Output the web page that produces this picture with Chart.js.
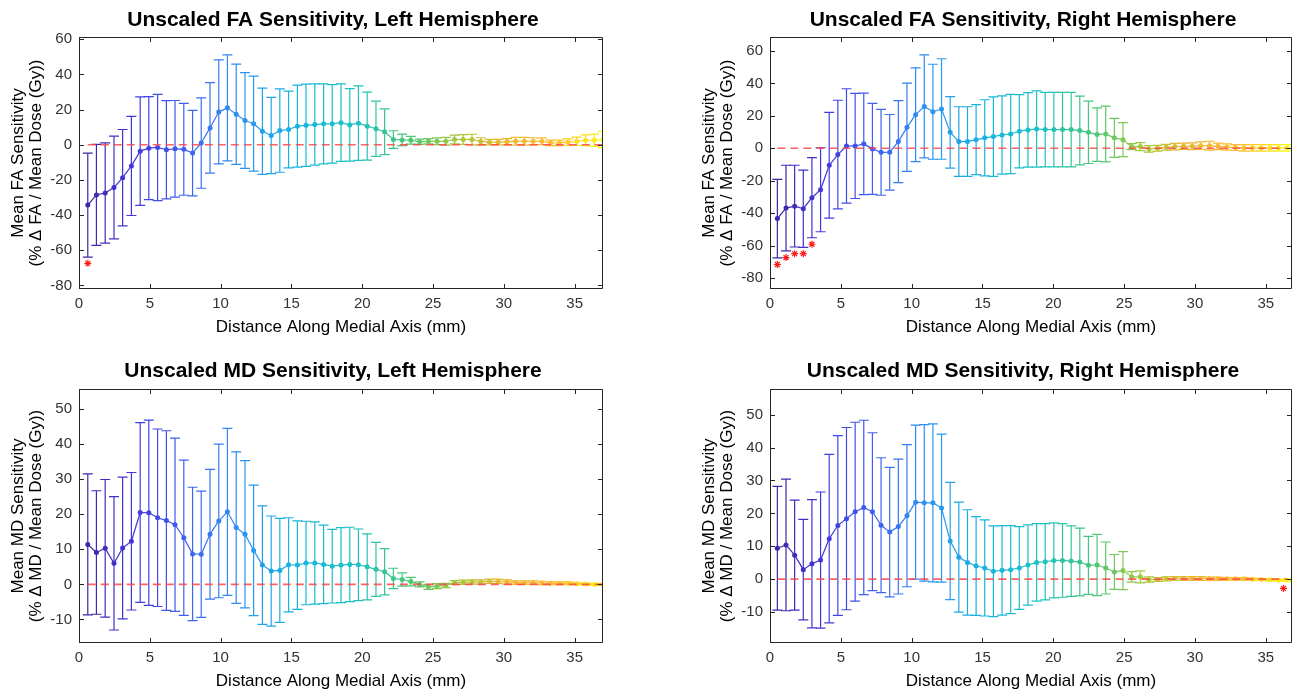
<!DOCTYPE html>
<html>
<head>
<meta charset="utf-8">
<script src="https://cdn.jsdelivr.net/npm/chart.js@4.4.0/dist/chart.umd.min.js"></script>
<style>
html, body { margin: 0; padding: 0; background: #fff; overflow: hidden; width: 1294px; height: 694px; }
canvas { position: absolute; }
</style>
</head>
<body>
<canvas id="faLeft" width="666" height="352" style="left:0;top:0"></canvas>
<canvas id="faRight" width="664" height="352" style="left:691px;top:0"></canvas>
<canvas id="mdLeft" width="666" height="342" style="left:0;top:352px"></canvas>
<canvas id="mdRight" width="664" height="342" style="left:691px;top:352px"></canvas>
<script>
// distanza lungo l'asse mediale (mm)
const DIST_L = [0.62, 1.23, 1.85, 2.47, 3.08, 3.70, 4.32, 4.93, 5.55, 6.17, 6.78, 7.40, 8.02, 8.63, 9.25,
  9.87, 10.48, 11.10, 11.72, 12.33, 12.95, 13.57, 14.18, 14.80, 15.42, 16.03, 16.65, 17.27, 17.88, 18.50,
  19.12, 19.73, 20.35, 20.97, 21.58, 22.20, 22.82, 23.43, 24.05, 24.67, 25.28, 25.90, 26.52, 27.13, 27.75,
  28.37, 28.98, 29.60, 30.22, 30.83, 31.45, 32.07, 32.68, 33.30, 33.92, 34.53, 35.15, 35.77, 36.38, 37.00];
const DIST_R = [0.52, 1.13, 1.74, 2.35, 2.96, 3.57, 4.18, 4.79, 5.40, 6.01, 6.62, 7.23, 7.84, 8.45, 9.06,
  9.67, 10.28, 10.89, 11.50, 12.11, 12.72, 13.33, 13.94, 14.55, 15.16, 15.77, 16.38, 16.99, 17.60, 18.21,
  18.82, 19.43, 20.04, 20.65, 21.26, 21.87, 22.48, 23.09, 23.70, 24.31, 24.92, 25.53, 26.14, 26.75, 27.36,
  27.97, 28.58, 29.19, 29.80, 30.41, 31.02, 31.63, 32.24, 32.85, 33.46, 34.07, 34.68, 35.29, 35.90, 36.51];
const X_TICKS = [0, 5, 10, 15, 20, 25, 30, 35];

// FA, emisfero sinistro
const FA_L_MEAN = [-34.3, -28.5, -27.4, -24.3, -18.7, -12.0, -3.6, -1.9, -1.5, -2.8, -2.3, -2.6, -4.7, 1.0, 9.6,
  18.7, 21.0, 17.4, 13.8, 12.0, 7.7, 5.3, 8.1, 8.7, 10.6, 11.1, 11.5, 11.9, 11.9, 12.6,
  11.3, 12.3, 10.6, 9.1, 7.4, 3.0, 2.8, 2.6, 1.7, 2.0, 2.0, 2.0, 3.0, 3.0, 3.0,
  1.9, 1.5, 1.5, 1.7, 2.0, 2.0, 2.0, 2.0, 1.1, 1.1, 1.5, 2.0, 2.6, 2.6, 3.0];
const FA_L_SD = [29.6, 28.7, 28.5, 29.2, 27.4, 28.2, 30.8, 29.3, 30.2, 27.9, 27.5, 26.1, 24.3, 25.7, 25.7,
  29.6, 30.1, 28.5, 27.2, 27.0, 24.5, 21.7, 23.7, 21.8, 23.3, 23.4, 23.1, 22.8, 22.3, 22.0,
  20.6, 21.2, 19.3, 15.7, 13.0, 5.0, 3.3, 2.2, 1.5, 1.5, 1.9, 2.2, 2.5, 2.8, 3.0,
  2.1, 1.6, 1.6, 1.8, 2.2, 2.2, 2.0, 1.9, 1.6, 1.6, 1.9, 2.4, 3.1, 3.5, 4.6];
const FA_L_STAR_X = [0.62];
const FA_L_STAR_Y = [-67.4];

// FA, emisfero destro
const FA_R_MEAN = [-43.4, -36.9, -35.7, -37.3, -30.5, -25.6, -10.5, -3.9, 1.4, 1.4, 2.7, -0.4, -2.5, -2.5, 4.1,
  12.9, 20.7, 25.8, 22.5, 24.2, 9.8, 4.1, 4.1, 5.3, 6.4, 7.2, 8.2, 8.8, 10.5, 11.3,
  11.9, 11.5, 11.5, 11.5, 11.5, 10.9, 9.8, 8.4, 8.8, 6.4, 5.3, 1.0, 1.0, -0.4, 0.0,
  0.6, 1.0, 1.2, 1.2, 1.6, 1.6, 1.2, 0.8, 0.4, 0.2, 0.2, 0.2, 0.2, 0.2, 0.2];
const FA_R_SD = [24.2, 26.4, 25.2, 23.8, 24.7, 25.9, 32.6, 33.5, 35.3, 32.4, 31.3, 28.1, 26.5, 23.3, 25.3,
  27.2, 28.9, 31.8, 29.3, 31.0, 22.0, 21.5, 21.5, 21.6, 23.5, 24.5, 24.1, 24.4, 22.6, 23.0,
  23.5, 23.0, 23.0, 23.0, 23.0, 21.2, 19.2, 16.5, 17.2, 12.0, 10.5, 1.9, 2.5, 2.0, 1.8,
  1.8, 2.0, 1.9, 2.1, 2.3, 2.7, 2.0, 1.9, 1.8, 2.0, 2.0, 2.0, 2.0, 2.0, 2.0];
const FA_R_STAR_X = [0.52, 1.13, 1.74, 2.35, 2.96];
const FA_R_STAR_Y = [-71.7, -67.4, -65.0, -65.0, -59.2];

// MD, emisfero sinistro
const MD_L_MEAN = [11.4, 9.1, 10.3, 6.0, 10.4, 12.3, 20.5, 20.4, 19.0, 18.2, 17.0, 13.3, 8.7, 8.6, 14.3,
  18.1, 20.7, 16.2, 14.3, 9.7, 5.5, 3.8, 4.0, 5.6, 5.5, 6.1, 6.1, 5.7, 5.2, 5.5,
  5.7, 5.6, 5.0, 4.3, 3.6, 1.7, 1.4, 0.8, 0.0, -0.7, -0.5, -0.3, 0.5, 0.6, 0.7,
  0.7, 0.9, 0.9, 0.7, 0.5, 0.5, 0.5, 0.4, 0.3, 0.3, 0.3, 0.2, 0.1, 0.0, 0.0];
const MD_L_SD = [20.1, 17.6, 19.6, 19.0, 20.2, 19.6, 25.6, 26.4, 25.3, 25.6, 24.7, 22.1, 19.0, 18.0, 18.5,
  21.9, 23.8, 21.6, 21.0, 18.6, 16.9, 15.7, 14.8, 13.4, 12.6, 11.9, 11.7, 11.2, 10.5, 10.7,
  10.6, 10.2, 9.4, 7.7, 6.6, 2.9, 1.9, 1.2, 0.7, 0.7, 0.7, 0.6, 0.6, 0.6, 0.6,
  0.6, 0.6, 0.6, 0.6, 0.5, 0.5, 0.5, 0.5, 0.4, 0.4, 0.4, 0.3, 0.3, 0.3, 0.3];
const MD_L_STAR_X = [];
const MD_L_STAR_Y = [];

// MD, emisfero destro
const MD_R_MEAN = [9.4, 10.4, 7.3, 2.9, 4.7, 5.8, 12.3, 16.3, 18.4, 20.5, 21.8, 20.5, 16.4, 14.3, 16.0,
  19.3, 23.4, 23.2, 23.2, 21.6, 11.6, 6.7, 5.1, 4.0, 3.4, 2.4, 2.7, 2.9, 3.4, 4.3,
  5.1, 5.3, 5.7, 5.7, 5.5, 5.2, 4.2, 4.3, 3.4, 2.2, 2.6, 0.7, 0.7, -0.1, -0.1,
  0.1, 0.2, 0.2, 0.2, 0.2, 0.1, 0.1, 0.1, 0.1, 0.1, 0.0, -0.1, -0.2, -0.3, -0.3];
const MD_R_SD = [18.8, 20.0, 16.7, 15.3, 19.5, 20.7, 25.6, 27.3, 27.7, 27.2, 26.5, 24.0, 20.5, 19.7, 20.5,
  21.6, 23.4, 23.8, 24.0, 22.5, 17.8, 16.7, 16.0, 15.0, 14.6, 13.8, 13.6, 13.4, 12.6, 12.2,
  11.8, 11.6, 11.4, 11.2, 10.7, 10.3, 8.8, 9.3, 7.9, 5.3, 5.8, 1.6, 1.8, 0.8, 0.6,
  0.6, 0.6, 0.6, 0.6, 0.6, 0.5, 0.5, 0.4, 0.4, 0.4, 0.3, 0.3, 0.3, 0.3, 0.3];
const MD_R_STAR_X = [36.25];
const MD_R_STAR_Y = [-2.8];

const FONT = 'Liberation Sans, Arial, sans-serif';

// colormap tipo parula
const PARULA = [
  [0.00, [62, 38, 168]], [0.08, [67, 53, 216]], [0.18, [63, 92, 240]], [0.28, [47, 140, 242]],
  [0.40, [22, 180, 224]], [0.52, [29, 194, 192]], [0.62, [72, 200, 120]], [0.72, [168, 200, 56]],
  [0.80, [232, 184, 48]], [0.90, [255, 186, 48]], [1.00, [248, 248, 21]]
];
function parula(t) {
  t = Math.max(0, Math.min(1, t));
  for (let i = 1; i < PARULA.length; i++) {
    if (t <= PARULA[i][0]) {
      const [t0, c0] = PARULA[i - 1], [t1, c1] = PARULA[i];
      const f = (t - t0) / (t1 - t0);
      const c = c0.map((v, k) => Math.round(v + (c1[k] - v) * f));
      return 'rgb(' + c.join(',') + ')';
    }
  }
  return 'rgb(248,248,21)';
}

//barre d'errore
const errorBars = {
  id: 'errbars',
  beforeDatasetsDraw(chart, args, opts) {
    const {ctx, chartArea: a, scales: {x, y}} = chart;
    const n = opts.mean.length;
    ctx.save();
    ctx.beginPath();
    ctx.rect(a.left, a.top, a.width, a.height);
    ctx.clip();
    ctx.lineWidth = 1.2;
    for (let i = 0; i < n; i++) {
      const px = x.getPixelForValue(opts.x[i]);
      const hi = y.getPixelForValue(opts.mean[i] + opts.sd[i]);
      const lo = y.getPixelForValue(opts.mean[i] - opts.sd[i]);
      ctx.strokeStyle = parula(i / (n - 1));
      ctx.beginPath();
      ctx.moveTo(px, hi); ctx.lineTo(px, lo);
      ctx.moveTo(px - 5, hi); ctx.lineTo(px + 5, hi);
      ctx.moveTo(px - 5, lo); ctx.lineTo(px + 5, lo);
      ctx.stroke();
    }
    ctx.restore();
  }
};

//riquadro con tacche interne
const axesBox = {
  id: 'axesBox',
  afterDraw(chart) {
    const {ctx, chartArea: a, scales: {x, y}} = chart;
    ctx.save();
    ctx.strokeStyle = '#262626';
    ctx.lineWidth = 1;
    ctx.beginPath();
    ctx.rect(Math.round(a.left) + 0.5, Math.round(a.top) + 0.5, Math.round(a.width) - 1, Math.round(a.height) - 1);
    x.ticks.forEach(t => {
      const p = Math.round(x.getPixelForValue(t.value)) + 0.5;
      ctx.moveTo(p, a.bottom); ctx.lineTo(p, a.bottom - 5);
      ctx.moveTo(p, a.top); ctx.lineTo(p, a.top + 5);
    });
    y.ticks.forEach(t => {
      const p = Math.round(y.getPixelForValue(t.value)) + 0.5;
      ctx.moveTo(a.left, p); ctx.lineTo(a.left + 5, p);
      ctx.moveTo(a.right, p); ctx.lineTo(a.right - 5, p);
    });
    ctx.stroke();
    ctx.restore();
  }
};

function pannello(id, cfg) {
  const n = cfg.mean.length;
  const stars = cfg.starX.map((v, i) => ({x: v, y: cfg.starY[i]}));
  const serie = cfg.x.map((v, i) => ({x: v, y: cfg.mean[i]}));
  return new Chart(document.getElementById(id), {
    type: 'line',
    data: {
      datasets: [
        {
          label: 'p < 0.05', type: 'scatter', data: stars, showLine: false,
          pointStyle: 'star', pointRadius: 3.5, borderColor: '#ff1a1a', borderWidth: 1.2
        },
        {
          label: 'zero', data: [{x: cfg.x[0], y: 0}, {x: cfg.x[n - 1], y: 0}],
          borderColor: 'rgba(255,70,70,0.85)', borderDash: [8, 5], borderWidth: 1.6, pointRadius: 0
        },
        {
          label: 'media', data: serie, borderWidth: 1.2, pointRadius: 2.5, pointBorderWidth: 0,
          pointBackgroundColor: c => parula(c.dataIndex / (n - 1)),
          segment: {borderColor: c => parula(c.p0DataIndex / (n - 1))}
        }
      ]
    },
    options: {
      responsive: false,
      animation: false,
      layout: {padding: 0},
      plugins: {
        legend: {display: false},
        tooltip: {enabled: false},
        title: {
          display: true, text: cfg.title, color: '#000',
          font: {family: FONT, size: 21, weight: 'bold'},
          padding: {top: cfg.titleTop, bottom: 37 - 25.2 - cfg.titleTop}
        },
        errbars: {x: cfg.x, mean: cfg.mean, sd: cfg.sd}
      },
      scales: {
        x: {
          type: 'linear', min: 0, max: cfg.xmax,
          border: {display: false},
          grid: {display: false, drawTicks: false},
          afterBuildTicks: s => { s.ticks = X_TICKS.map(v => ({value: v})); },
          ticks: {font: {family: FONT, size: 15}, color: '#333', padding: 6, maxRotation: 0, autoSkip: false},
          title: {
            display: true, text: 'Distance Along Medial Axis (mm)', color: '#000',
            font: {family: FONT, size: 17}, padding: {top: 0, bottom: cfg.xTitlePad}
          },
          afterFit: s => { s.height = cfg.xHeight; }
        },
        y: {
          type: 'linear', min: cfg.ymin, max: cfg.ymax,
          border: {display: false},
          grid: {display: false, drawTicks: false},
          afterBuildTicks: s => { s.ticks = cfg.yTicks.map(v => ({value: v})); },
          ticks: {font: {family: FONT, size: 15}, color: '#333', padding: 7},
          title: {
            display: true, text: cfg.yTitle, color: '#000',
            font: {family: FONT, size: 17, lineHeight: 1.1}, padding: {top: 8.6, bottom: 0}
          },
          afterFit: s => { s.width = 79; }
        },
        // margine destro vuoto, cosi' il titolo resta centrato sulla tela
        margine: {
          type: 'linear', axis: 'y', position: 'right',
          border: {display: false},
          grid: {display: false, drawTicks: false},
          ticks: {display: false},
          afterFit: s => { s.width = cfg.padRight; }
        }
      }
    },
    plugins: [errorBars, axesBox]
  });
}

const FA_TICKS = [-80, -60, -40, -20, 0, 20, 40, 60];
const MD_TICKS = [-10, 0, 10, 20, 30, 40, 50];

pannello('faLeft', {
  title: 'Unscaled FA Sensitivity, Left Hemisphere',
  yTitle: ['Mean FA Sensitivity', '(% \u0394 FA / Mean Dose (Gy))'],
  x: DIST_L, mean: FA_L_MEAN, sd: FA_L_SD, starX: FA_L_STAR_X, starY: FA_L_STAR_Y,
  xmax: 37, ymin: -82, ymax: 61.3, yTicks: FA_TICKS,
  padRight: 63, titleTop: 7.4, xHeight: 63, xTitlePad: 14.8
});
pannello('faRight', {
  title: 'Unscaled FA Sensitivity, Right Hemisphere',
  yTitle: ['Mean FA Sensitivity', '(% \u0394 FA / Mean Dose (Gy))'],
  x: DIST_R, mean: FA_R_MEAN, sd: FA_R_SD, starX: FA_R_STAR_X, starY: FA_R_STAR_Y,
  xmax: 36.85, ymin: -86.8, ymax: 68.6, yTicks: FA_TICKS,
  padRight: 63, titleTop: 7.4, xHeight: 63, xTitlePad: 14.8
});
pannello('mdLeft', {
  title: 'Unscaled MD Sensitivity, Left Hemisphere',
  yTitle: ['Mean MD Sensitivity', '(% \u0394 MD / Mean Dose (Gy))'],
  x: DIST_L, mean: MD_L_MEAN, sd: MD_L_SD, starX: MD_L_STAR_X, starY: MD_L_STAR_Y,
  xmax: 37, ymin: -16.7, ymax: 55.7, yTicks: MD_TICKS,
  padRight: 63, titleTop: 6.4, xHeight: 51, xTitlePad: 2.8
});
pannello('mdRight', {
  title: 'Unscaled MD Sensitivity, Right Hemisphere',
  yTitle: ['Mean MD Sensitivity', '(% \u0394 MD / Mean Dose (Gy))'],
  x: DIST_R, mean: MD_R_MEAN, sd: MD_R_SD, starX: MD_R_STAR_X, starY: MD_R_STAR_Y,
  xmax: 36.85, ymin: -19.4, ymax: 57.8, yTicks: MD_TICKS,
  padRight: 63, titleTop: 6.4, xHeight: 51, xTitlePad: 2.8
});
</script>
</body>
</html>
